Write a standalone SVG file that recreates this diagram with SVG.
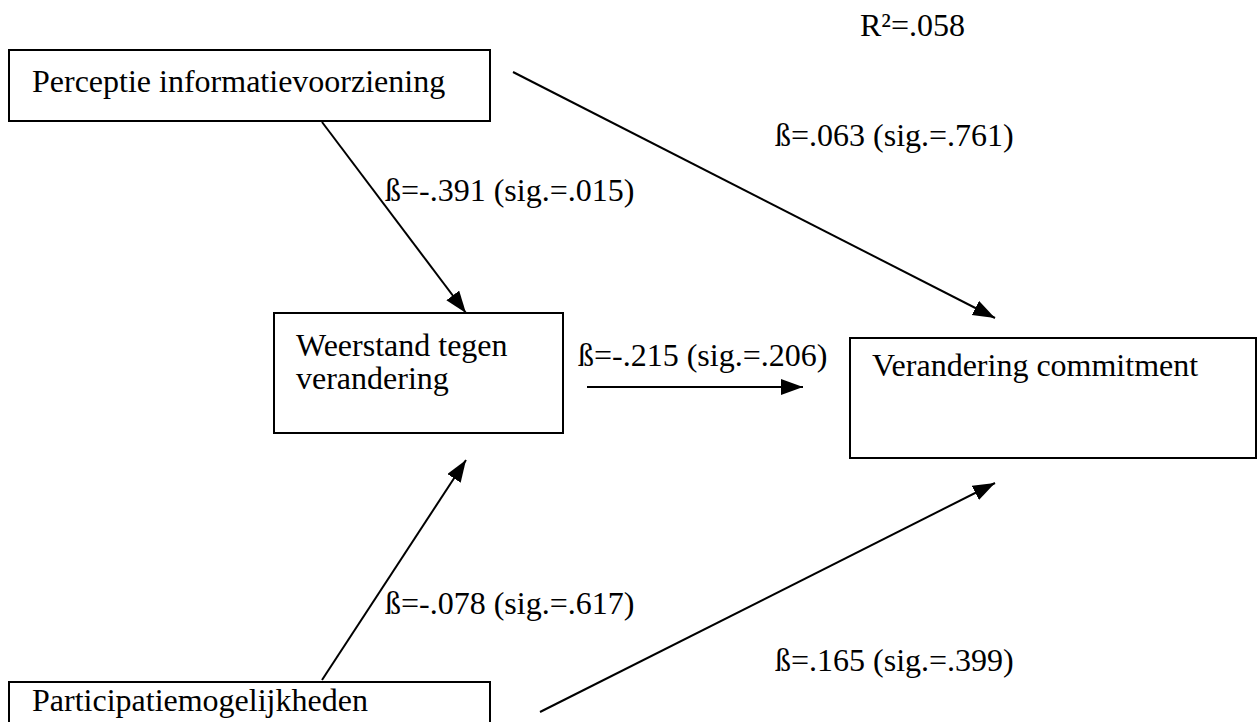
<svg xmlns="http://www.w3.org/2000/svg" width="1258" height="722" viewBox="0 0 1258 722">
<style>
.box{fill:#fff;stroke:#000;stroke-width:2}
.t{font-family:"Liberation Serif","Times New Roman",serif;font-size:32px;fill:#000}
.c{stroke:#000;stroke-width:2;fill:none;marker-end:url(#ah)}
</style>
<defs>
<marker id="ah" markerUnits="userSpaceOnUse" markerWidth="24" markerHeight="18" refX="22" refY="8" orient="auto">
<path d="M0,0 L22,8 L0,16 z" fill="#000"/>
</marker>
</defs>
<rect width="1258" height="722" fill="#fff"/>
<g id="connectors">
<line class="c" x1="322" y1="122" x2="466" y2="313"/>
<line class="c" x1="513" y1="72" x2="995" y2="318"/>
<line class="c" x1="587" y1="387" x2="803" y2="387"/>
<line class="c" x1="322" y1="680" x2="466" y2="460"/>
<line class="c" x1="540" y1="712" x2="995" y2="483"/>
</g>
<g id="labels">
<text class="t" x="860" y="36">R²=.058</text>
<text class="t" x="775" y="146">ß=.063 (sig.=.761)</text>
<text class="t" x="385" y="201">ß=-.391 (sig.=.015)</text>
<text class="t" x="578" y="366">ß=-.215 (sig.=.206)</text>
<text class="t" x="385" y="614">ß=-.078 (sig.=.617)</text>
<text class="t" x="775" y="671">ß=.165 (sig.=.399)</text>
</g>
<g id="node-perceptie">
<rect class="box" x="9" y="50" width="481" height="71"/>
<text class="t" x="32" y="92">Perceptie informatievoorziening</text>
</g>
<g id="node-weerstand">
<rect class="box" x="274" y="313" width="289" height="120"/>
<text class="t" x="296" y="356">Weerstand tegen</text>
<text class="t" x="296" y="389">verandering</text>
</g>
<g id="node-commitment">
<rect class="box" x="850" y="338" width="406" height="120"/>
<text class="t" x="872" y="376">Verandering commitment</text>
</g>
<g id="node-participatie">
<rect class="box" x="9" y="682" width="481" height="60"/>
<text class="t" x="32" y="711">Participatiemogelijkheden</text>
</g>
</svg>
